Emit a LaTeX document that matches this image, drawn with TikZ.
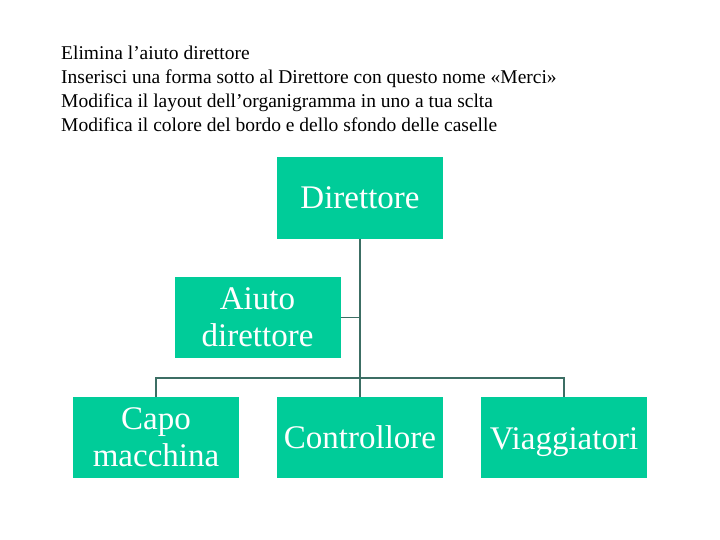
\documentclass[tikz,border=0pt]{standalone}
\usepackage{fontspec}
\setmainfont{Liberation Serif}
\begin{document}
\begin{tikzpicture}[x=1pt,y=-1pt,
  box/.style={fill={rgb,255:red,0;green,204;blue,153},draw=none,minimum width=166pt,minimum height=81pt,inner sep=0pt,align=center,font=\fontsize{33}{37}\selectfont,text=white},
  conn/.style={draw={rgb,255:red,60;green,110;blue,100},line width=1.2pt}]
\useasboundingbox (0,0) rectangle (720,540);
\node[anchor=north west,align=left,font=\fontsize{19.5}{24}\selectfont,inner sep=0pt] (t) at (61,46) {Elimina l’aiuto direttore\\Inserisci una forma sotto al Direttore con questo nome «Merci»\\Modifica il layout dell’organigramma in uno a tua sclta\\Modifica il colore del bordo e dello sfondo delle caselle};
\node[box] (d) at (360,198) {Direttore};
\node[box] (a) at (257.5,317.5) {Aiuto\\direttore};
\node[box] (c) at (156,437.5) {Capo\\macchina};
\node[box] (k) at (360,437.5) {Controllore};
\node[box,text height=23pt,text depth=0pt] (v) at (564,437.5) {Viaggiatori};
\coordinate (j) at (360,378);
\draw[conn] (d.south) -- (j);
\draw[conn] (a.east) -- (360,317.5);
\draw[conn] (c.north) -- (156,378) -- (564,378) -- (v.north);
\draw[conn] (j) -- (k.north);
\end{tikzpicture}
\end{document}
